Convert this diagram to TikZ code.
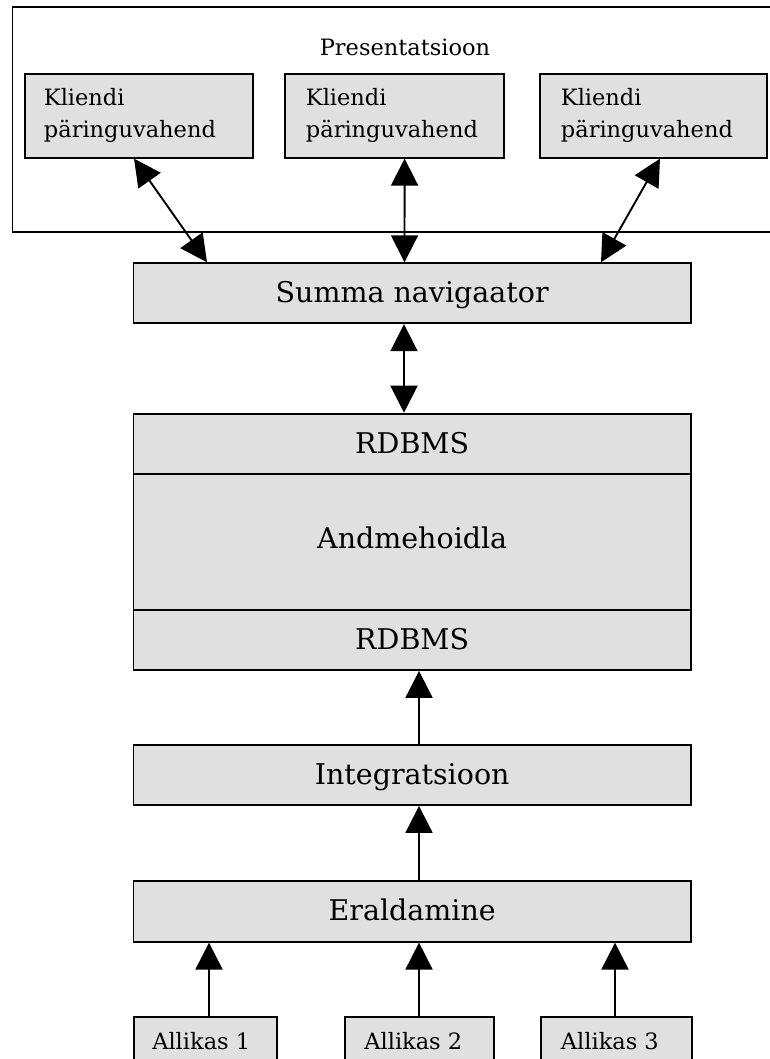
\documentclass[tikz,border=0pt]{standalone}
\usepackage{fontspec}
\setmainfont{DejaVu Serif}
\usetikzlibrary{arrows.meta}
\definecolor{boxgray}{RGB}{224,224,224}
\begin{document}
\begin{tikzpicture}[x=1pt,y=-1pt,
  frame/.style={draw=black, line width=1.9pt, inner sep=0pt, anchor=north west},
  box/.style={frame, fill=boxgray},
  big/.style={font=\fontsize{28.5}{34}\selectfont, text height=19pt, text depth=0pt},
  small/.style={font=\fontsize{22.5}{31.7}\selectfont},
  link/.style={line width=1.9pt, -{Triangle[length=27pt,width=27pt]}},
  both/.style={line width=1.9pt, {Triangle[length=27pt,width=27pt]}-{Triangle[length=27pt,width=27pt]}}]
\useasboundingbox (0,0) rectangle (769,1059);

% presentation layer
\node[frame, minimum width=766pt, minimum height=225pt] (pres) at (11.5,6) {};
\node[small, anchor=base] (prestitle) at (405,56) {Presentatsioon};
\node[box, minimum width=228pt, minimum height=84pt, small, align=left, text width=190pt] (k1) at (24,72.7)
  {\mbox{Kliendi}\\\mbox{päringuvahend}};
\node[box, minimum width=219pt, minimum height=84pt, small, align=left, text width=177pt] (k2) at (284,72.7)
  {\mbox{Kliendi}\\\mbox{päringuvahend}};
\node[box, minimum width=227pt, minimum height=84pt, small, align=left, text width=185pt] (k3) at (539,72.7)
  {\mbox{Kliendi}\\\mbox{päringuvahend}};

% central stack
\node[box, minimum width=557.5pt, minimum height=60pt, big] (sum) at (132.5,262.3) {Summa navigaator};
\node[box, minimum width=557.5pt, minimum height=60pt, big] (rt) at (132.5,412.7) {RDBMS};
\node[box, minimum width=557.5pt, minimum height=136pt, big, text height=14.6pt] (dw) at (132.5,472.7) {Andmehoidla};
\node[box, minimum width=557.5pt, minimum height=60.3pt, big] (rb) at (132.5,608.7) {RDBMS};
\node[box, minimum width=557.5pt, minimum height=60pt, big] (int) at (132.5,744) {Integratsioon};
\node[box, minimum width=557.5pt, minimum height=60.7pt, big] (era) at (132.5,880) {Eraldamine};

% sources
\node[box, minimum width=143.4pt, minimum height=66pt, small, text height=0pt, text depth=0pt] (a1) at (132.6,1016) {Allikas 1\hspace*{8pt}};
\node[box, minimum width=148.7pt, minimum height=66pt, small, text height=0pt, text depth=0pt] (a2) at (344,1016) {Allikas 2\hspace*{12pt}};
\node[box, minimum width=150.8pt, minimum height=66pt, small, text height=0pt, text depth=0pt] (a3) at (540,1016) {Allikas 3\hspace*{13pt}};

% connector end points
\coordinate (k1b) at ([xshift=110pt]k1.south west);
\coordinate (k2b) at ([xshift=120.6pt]k2.south west);
\coordinate (k3b) at ([xshift=121pt]k3.south west);
\coordinate (s1) at ([xshift=74.5pt]sum.north west);
\coordinate (s2) at ([xshift=272pt]sum.north west);
\coordinate (s3) at ([xshift=468.5pt]sum.north west);
\coordinate (sd) at ([xshift=271.5pt]sum.south west);
\coordinate (iu) at ([xshift=286.5pt]int.north west);
\coordinate (eu) at ([xshift=286.5pt]era.north west);
\coordinate (a1t) at ([xshift=76.4pt]a1.north west);
\coordinate (a2t) at ([xshift=75pt]a2.north west);
\coordinate (a3t) at ([xshift=75pt]a3.north west);

% connectors
\draw[both] (k1b) -- (s1);
\draw[both] (k2b) -- (s2);
\draw[both] (k3b) -- (s3);
\draw[both] (sd) -- (sd |- rt.north);
\draw[link] (iu) -- (iu |- rb.south);
\draw[link] (eu) -- (eu |- int.south);
\draw[link] (a1t) -- (a1t |- era.south);
\draw[link] (a2t) -- (a2t |- era.south);
\draw[link] (a3t) -- (a3t |- era.south);
\end{tikzpicture}
\end{document}
